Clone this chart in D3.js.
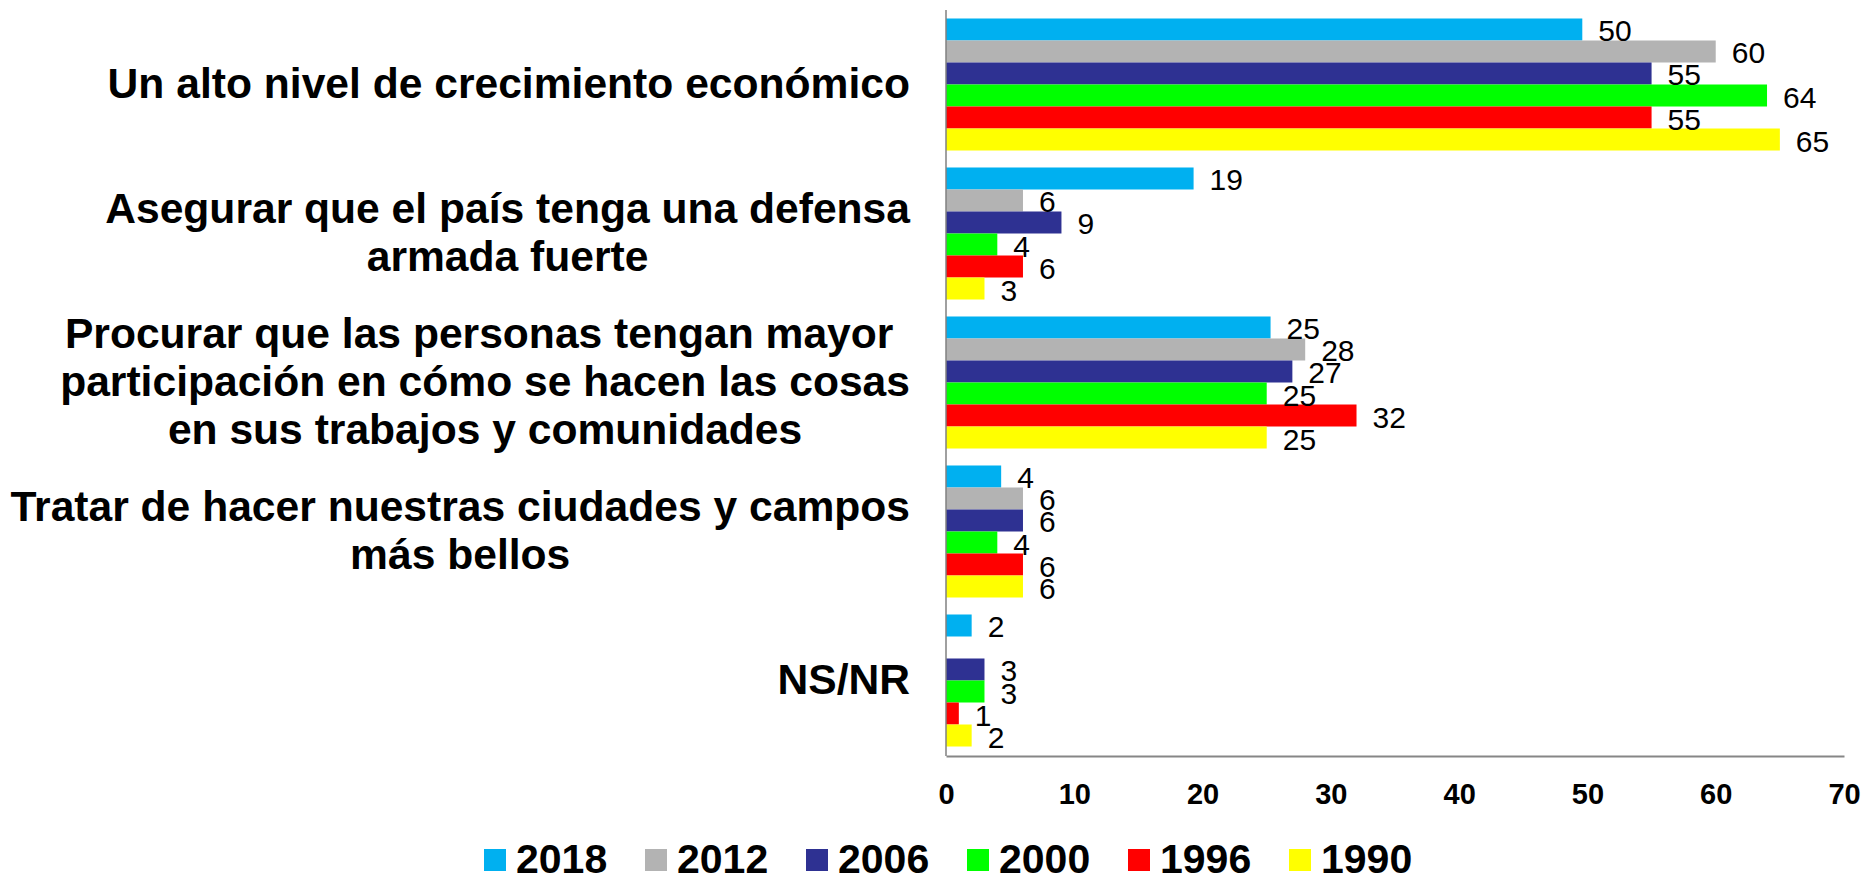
<!DOCTYPE html>
<html>
<head>
<meta charset="utf-8">
<script src="https://cdn.jsdelivr.net/npm/d3@7"></script>
<style>
  body { margin: 0; background: #ffffff; }
  svg text { font-family: "Liberation Sans", Arial, sans-serif; }
</style>
</head>
<body>
<svg id="chart" width="1864" height="879"></svg>
<script>
// ---- data ----
const categories = [
  "Un alto nivel de crecimiento económico",
  "Asegurar que el país tenga una defensa\narmada fuerte",
  "Procurar que las personas tengan mayor \nparticipación en cómo se hacen las cosas\nen sus trabajos y comunidades",
  "Tratar de hacer nuestras ciudades y campos\nmás bellos",
  "NS/NR"
];
const seriesNames = ["2018", "2012", "2006", "2000", "1996", "1990"];
const values2018 = [49.6, 19.3, 25.3, 4.3, 2.0];
const values2012 = [60, 6, 28, 6, null];
const values2006 = [55, 9, 27, 6, 3];
const values2000 = [64, 4, 25, 4, 3];
const values1996 = [55, 6, 32, 6, 1];
const values1990 = [65, 3, 25, 6, 2];
const seriesColors = ["#00B0F0", "#B3B3B3", "#2E3192", "#00FF00", "#FF0000", "#FFFF00"];
const xTicks = [0, 10, 20, 30, 40, 50, 60, 70];

const seriesValues = [values2018, values2012, values2006, values2000, values1996, values1990];

// ---- layout ----
const svg = d3.select("#chart");
const plotLeft = 946, plotRight = 1844, plotTop = 10, plotBottom = 755;

const x = d3.scaleLinear().domain([0, 70]).range([plotLeft, plotRight]);
const y = d3.scaleBand()
  .domain(d3.range(categories.length))
  .range([plotTop, plotBottom])
  .paddingInner(0.114)
  .paddingOuter(0.057);
const ys = d3.scaleBand()
  .domain(d3.range(seriesNames.length))
  .range([0, y.bandwidth()]);

// bars
const cells = [];
categories.forEach((c, ci) => {
  seriesNames.forEach((s, si) => {
    const v = seriesValues[si][ci];
    if (v !== null && v !== undefined) cells.push({ ci, si, v });
  });
});

svg.append("g").selectAll("rect")
  .data(cells)
  .join("rect")
  .attr("x", x(0))
  .attr("y", d => y(d.ci) + ys(d.si))
  .attr("width", d => x(d.v) - x(0))
  .attr("height", ys.bandwidth())
  .attr("fill", d => seriesColors[d.si]);

// value labels
const fmt = d3.format(".0f");
svg.append("g").selectAll("text")
  .data(cells)
  .join("text")
  .attr("x", d => x(d.v) + 16)
  .attr("y", d => y(d.ci) + ys(d.si) + ys.bandwidth() / 2)
  .attr("dy", "0.40em")
  .attr("font-size", 30)
  .attr("fill", "#000")
  .text(d => fmt(d.v));

// axes
const yAxis = svg.append("g")
  .attr("transform", `translate(${plotLeft},0)`)
  .call(d3.axisLeft(y).tickSize(0).tickSizeOuter(0).tickFormat(""));
yAxis.select(".domain").attr("stroke", "#808080").attr("stroke-width", 1.5)
  .attr("d", `M0,${plotTop}V${plotBottom + 1}`);
yAxis.selectAll(".tick").remove();

const xAxis = svg.append("g")
  .attr("transform", `translate(0,${plotBottom + 1})`)
  .call(d3.axisBottom(x).tickValues(xTicks).tickSize(0).tickSizeOuter(0).tickPadding(27));
xAxis.select(".domain").attr("stroke", "#868686").attr("stroke-width", 2.2);
xAxis.selectAll(".tick text")
  .attr("font-family", "'Liberation Sans', Arial, sans-serif")
  .attr("font-size", 29)
  .attr("font-weight", "bold")
  .attr("fill", "#000");

// category labels (centered lines, block right-aligned to the axis)
const labelRight = 910, lineH = 48, catFont = 42.6;
categories.forEach((c, ci) => {
  const lines = c.split("\n");
  const g = svg.append("g");
  const cy = y(ci) + y.bandwidth() / 2;
  const texts = lines.map((ln, li) => g.append("text")
    .attr("font-size", catFont)
    .attr("font-weight", "bold")
    .attr("fill", "#000")
    .attr("text-anchor", "middle")
    .style("white-space", "pre")
    .attr("y", cy + (li - (lines.length - 1) / 2) * lineH + 13)
    .text(ln));
  const maxW = d3.max(texts, t => t.node().getComputedTextLength());
  texts.forEach(t => t.attr("x", labelRight - maxW / 2));
});

// legend
const legendX = d3.scaleLinear().domain([0, 1]).range([484, 645]);
const leg = svg.append("g").selectAll("g")
  .data(seriesNames)
  .join("g")
  .attr("transform", (d, i) => `translate(${legendX(i)},849)`);
leg.append("rect")
  .attr("width", 22).attr("height", 22)
  .attr("fill", (d, i) => seriesColors[i]);
leg.append("text")
  .attr("x", 32).attr("y", 24)
  .attr("font-size", 41)
  .attr("font-weight", "bold")
  .attr("fill", "#000")
  .text(d => d);
</script>
</body>
</html>
